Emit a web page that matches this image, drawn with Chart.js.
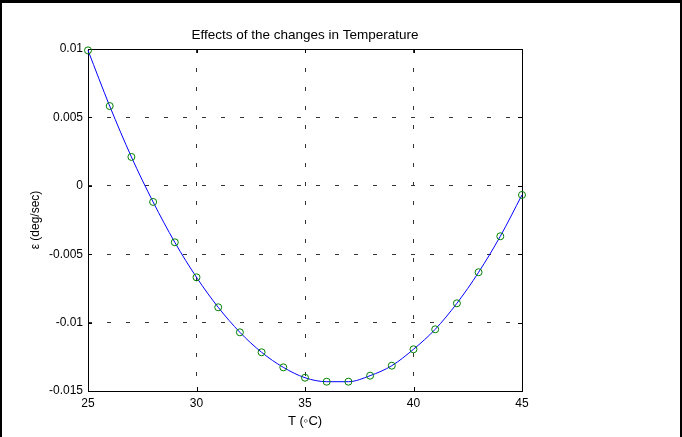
<!DOCTYPE html>
<html>
<head>
<meta charset="utf-8">
<script src="https://cdn.jsdelivr.net/npm/chart.js@4/dist/chart.umd.min.js"></script>
<style>
  body { margin: 0; background: #fff; }
  #wrap { position: relative; width: 682px; height: 437px; overflow: hidden; }
  #frame { position: absolute; left: 0; top: 0; width: 678px; height: 460px;
           border: 2px solid #000; border-top-width: 3px; pointer-events: none; }
</style>
</head>
<body>
<div id="wrap">
  <canvas id="myChart" width="682" height="437"></canvas>
  <div id="frame"></div>
</div>
<script>
var temps = [25, 26, 27, 28, 29, 30, 31, 32, 33, 34, 35, 36, 37, 38, 39, 40, 41, 42, 43, 44, 45]
var epsilon = [0.0099, 0.00583, 0.00211, -0.00118, -0.00413, -0.00669, -0.00888, -0.01071,
               -0.01217, -0.01327, -0.01403, -0.01432, -0.01432, -0.01388, -0.01315, -0.01195,
               -0.01049, -0.00859, -0.00632, -0.00369, -0.00067]
var xTicks = [25, 30, 35, 40, 45]
var yTicks = [-0.015, -0.01, -0.005, 0, 0.005, 0.01]

Chart.defaults.font.family = '"Liberation Sans", Arial, Helvetica, sans-serif'
Chart.defaults.font.size = 12
Chart.defaults.color = '#000'

// axes box with the small inward ticks on all four sides
var axesBox = {
  id: 'axesBox',
  beforeDatasetsDraw(chart) {
    var ctx = chart.ctx
    var a = chart.chartArea
    var x = chart.scales.x, y = chart.scales.y
    var len = 4
    ctx.save()
    ctx.strokeStyle = '#000'
    ctx.lineWidth = 1
    ctx.setLineDash([])
    ctx.strokeRect(Math.round(a.left) + 0.5, Math.round(a.top) + 0.5,
                   Math.round(a.right - a.left), Math.round(a.bottom - a.top))
    ctx.beginPath()
    xTicks.forEach(v => {
      var px = Math.round(x.getPixelForValue(v)) + 0.5
      ctx.moveTo(px, a.top); ctx.lineTo(px, a.top + len)
      ctx.moveTo(px, a.bottom); ctx.lineTo(px, a.bottom - len)
    })
    yTicks.forEach(v => {
      var py = Math.round(y.getPixelForValue(v)) + 0.5
      ctx.moveTo(a.left, py); ctx.lineTo(a.left + len, py)
      ctx.moveTo(a.right, py); ctx.lineTo(a.right - len, py)
    })
    ctx.stroke()
    ctx.restore()
  }
}

const ctx = document.getElementById('myChart')
new Chart(ctx, {
  type: 'line',
  data: {
    labels: temps,
    datasets: [{
      data: temps.map((t, i) => ({ x: t, y: epsilon[i] })),
      borderColor: '#0000ff',
      borderWidth: 1,
      cubicInterpolationMode: 'monotone',
      pointRadius: 3.5,
      pointBorderColor: '#008000',
      pointBackgroundColor: 'rgba(0,0,0,0)',
      pointBorderWidth: 1,
      clip: false
    }]
  },
  options: {
    responsive: false,
    animation: false,
    events: [],
    layout: { padding: { left: 0, right: 160, top: 0, bottom: 0 } },
    plugins: {
      legend: { display: false },
      tooltip: { enabled: false },
      title: {
        display: true,
        fullSize: false,
        text: 'Effects of the changes in Temperature',
        color: '#000',
        font: { size: 13.5, weight: 'normal' },
        padding: { top: 27.6, bottom: 5.2 }
      }
    },
    scales: {
      x: {
        type: 'linear',
        min: 25,
        max: 45,
        afterBuildTicks: s => { s.ticks = xTicks.map(v => ({ value: v })) },
        afterFit: s => { s.height = 46 },
        ticks: { padding: 5, color: '#000', maxRotation: 0 },
        grid: { color: '#333', lineWidth: 1, drawTicks: false },
        border: { display: false, dash: [4, 15] },
        title: { display: true, text: 'T (\u25E6C)', color: '#000', font: { size: 13 }, padding: { top: 0, bottom: 7.5 } }
      },
      y: {
        min: -0.015,
        max: 0.01,
        afterBuildTicks: s => { s.ticks = yTicks.map(v => ({ value: v })) },
        afterFit: s => { s.width = 88 },
        ticks: {
          padding: 5,
          color: '#000',
          callback: v => String(parseFloat(v.toFixed(4)))
        },
        grid: { color: '#333', lineWidth: 1, drawTicks: false },
        border: { display: false, dash: [4, 15] },
        title: { display: true, text: '\u03B5 (deg/sec)', color: '#000', padding: { top: 28, bottom: 0 } }
      }
    }
  },
  plugins: [axesBox]
})
</script>
</body>
</html>
